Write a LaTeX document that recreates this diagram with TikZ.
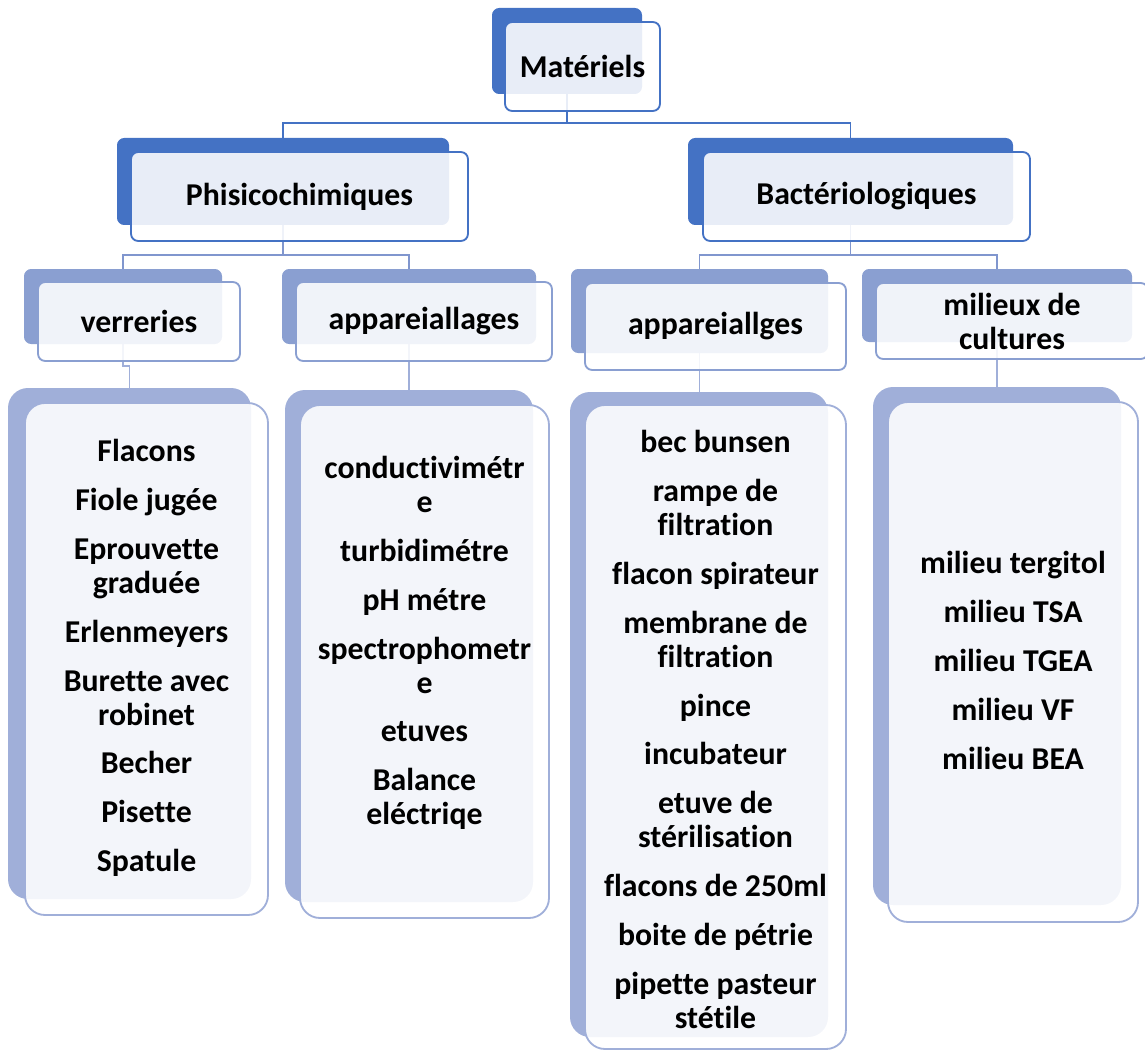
\documentclass[tikz,border=0pt]{standalone}
\usepackage{fontspec}
\setmainfont{Carlito}[Ligatures=NoCommon]
\usetikzlibrary{backgrounds}

\definecolor{blueA}{HTML}{4472C4}
\definecolor{blueB}{HTML}{8A9FD1}
\definecolor{blueC}{HTML}{A0AFD9}
\definecolor{lineB}{HTML}{8096CE}

\begin{document}
\begin{tikzpicture}[x=0.025cm, y=-0.025cm,
  wh/.style 2 args={minimum width=#1*0.025cm, minimum height=#2*0.025cm},
  txt/.style={font=\fontsize{22.6}{24.2}\selectfont\bfseries, align=center},
  topBk/.style={fill=blueA, rounded corners=0.18cm, inner sep=0pt, outer sep=0pt},
  topFr/.style={draw=blueA, line width=1.3pt, fill=white, fill opacity=0.88,
    text opacity=1, rounded corners=0.18cm, inner sep=0pt, txt},
  midBk/.style={fill=blueB, rounded corners=0.18cm, inner sep=0pt, outer sep=0pt},
  midFr/.style={draw=blueB, line width=1.3pt, fill=white, fill opacity=0.88,
    text opacity=1, rounded corners=0.18cm, inner sep=0pt, txt},
  leafBk/.style={fill=blueC, rounded corners=0.5cm, inner sep=0pt, outer sep=0pt},
  leafFr/.style={draw=blueC, line width=1.3pt, fill=white, fill opacity=0.88,
    rounded corners=0.5cm, inner sep=0pt},
  conA/.style={draw=blueA, line width=1.1pt},
  conB/.style={draw=lineB, line width=1.1pt},
  conC/.style={draw=blueC, line width=1.1pt}]

  \useasboundingbox (0,0) rectangle (1145,1051);

  % Top
  \node[topBk, wh={150}{86}] (matBk) at (567,51) {};
  \node[topFr, wh={155}{89}] (mat) at (582.5,66.5) {Matériels};

  % Level 1
  \node[topBk, wh={332}{87}] (physBk) at (283,181.5) {};
  \node[topFr, wh={337}{89}] (phys) at (299.5,196.5) {Phisicochimiques};
  \node[topBk, wh={325}{87}] (bactBk) at (850.5,181.5) {};
  \node[topFr, wh={327}{89}] (bact) at (866.5,196.5) {Bactériologiques};

  % Level 2
  \node[midBk, wh={198}{75}] (verrBk) at (123,306.5) {};
  \node[midFr, wh={202}{79}] (verr) at (139,321.5) {verreries};
  \node[midBk, wh={254}{75}] (appPCBk) at (409,306.5) {};
  \node[midFr, wh={256}{79}] (appPC) at (424,321.5) {appareiallages};
  \node[midBk, wh={257}{84}] (appBABk) at (699.5,311) {};
  \node[midFr, wh={261}{87}] (appBA) at (715.5,326.5) {appareiallges};
  \node[midBk, wh={270}{73}] (milBk) at (997,305.5) {};
  \node[midFr, wh={272}{76}] (mil) at (1012,321) {milieux de\\cultures};

  % Lists
  \node[leafBk, wh={243}{511}] (verrListBk) at (129.5,643.5) {};
  \node[leafFr, wh={243}{512}] (verrList) at (146.5,659) {};
  \node[txt] (verrItems) at (146.5,658) {Flacons\\[10.5pt]
    Fiole jugée\\[10.5pt]
    Eprouvette\\graduée\\[10.5pt]
    Erlenmeyers\\[10.5pt]
    Burette avec\\robinet\\[10.5pt]
    Becher\\[10.5pt]
    Pisette\\[10.5pt]
    Spatule};

  \node[leafBk, wh={248}{512}] (appPCListBk) at (409,646) {};
  \node[leafFr, wh={249}{513}] (appPCList) at (424.5,661.5) {};
  \node[txt] (appPCItems) at (424.5,643) {conductivimétr\\e\\[10.5pt]
    turbidimétre\\[10.5pt]
    pH métre\\[10.5pt]
    spectrophometr\\e\\[10.5pt]
    etuves\\[10.5pt]
    Balance\\eléctriqe};

  \node[leafBk, wh={258}{645}] (appBAListBk) at (699,714.5) {};
  \node[leafFr, wh={261}{644}] (appBAList) at (715.5,727) {};
  \node[txt] (appBAItems) at (715.5,729.5) {bec bunsen\\[10.5pt]
    rampe de\\filtration\\[10.5pt]
    flacon spirateur\\[10.5pt]
    membrane de\\filtration\\[10.5pt]
    pince\\[10.5pt]
    incubateur\\[10.5pt]
    etuve de\\stérilisation\\[10.5pt]
    flacons de 250ml\\[10.5pt]
    boite de pétrie\\[10.5pt]
    pipette pasteur\\stétile};

  \node[leafBk, wh={248}{518}] (milListBk) at (997,646) {};
  \node[leafFr, wh={250}{520}] (milList) at (1013,662) {};
  \node[txt] (milItems) at (1013,660.5) {milieu tergitol\\[10.5pt]
    milieu TSA\\[10.5pt]
    milieu TGEA\\[10.5pt]
    milieu VF\\[10.5pt]
    milieu BEA};

  % Connectors
  \begin{scope}[on background layer]
    \draw[conA] (matBk.south) -- ++(0,29) -| (physBk.north);
    \draw[conA] (matBk.south) -- ++(0,29) -| (bactBk.north);
    \draw[conB] (physBk.south) -- ++(0,30) -| (verrBk.north);
    \draw[conB] (physBk.south) -- ++(0,30) -| (appPCBk.north);
    \draw[conB] (bactBk.south) -- ++(0,30) -| (appBABk.north);
    \draw[conB] (bactBk.south) -- ++(0,30) -| (milBk.north);
    \draw[conC] (verrBk.south) -- ++(0,22) -| (verrListBk.north);
    \draw[conC] (appPCBk.south) -- (appPCListBk.north);
    \draw[conC] (appBABk.south) -- (appBAListBk.north -| appBABk.south);
    \draw[conC] (milBk.south) -- (milListBk.north);
  \end{scope}
\end{tikzpicture}
\end{document}
